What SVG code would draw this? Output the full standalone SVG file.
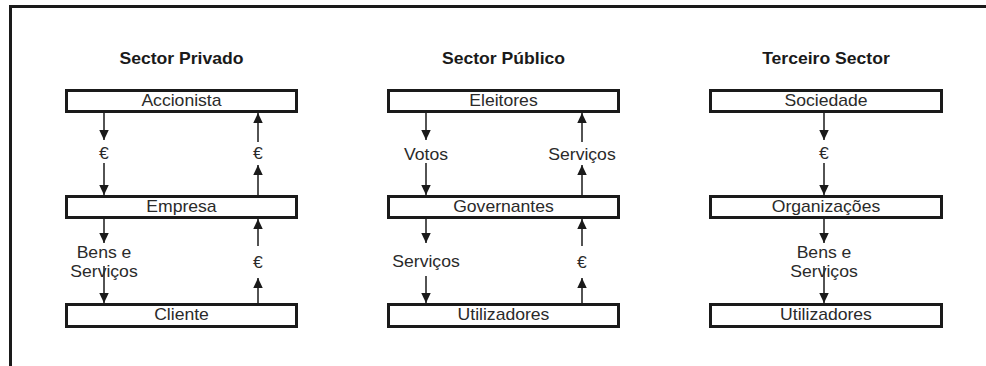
<svg xmlns="http://www.w3.org/2000/svg" width="986" height="366" viewBox="0 0 986 366">
  <style>
    .frame { fill: none; stroke: #1a1a1a; stroke-width: 3; }
    .box { fill: #ffffff; stroke: #1a1a1a; stroke-width: 3; }
    .title { font-family: "Liberation Sans", Arial, sans-serif; font-size: 16px; font-weight: bold; fill: #1a1a1a; text-anchor: middle; transform-box: fill-box; transform-origin: center; transform: scaleX(1.1); }
    .t { font-family: "Liberation Sans", Arial, sans-serif; font-size: 16px; fill: #2a2a2a; text-anchor: middle; transform-box: fill-box; transform-origin: center; transform: scaleX(1.1); }
    .lbl { font-family: "Liberation Sans", Arial, sans-serif; font-size: 16px; fill: #2a2a2a; text-anchor: middle; transform-box: fill-box; transform-origin: center; transform: scaleX(1.1); }
    .flow { fill: none; stroke: #1a1a1a; stroke-width: 1.5; marker-end: url(#head); }
  </style>
  <defs>
    <marker id="head" markerUnits="userSpaceOnUse" markerWidth="10" markerHeight="10" refX="10" refY="4.75" orient="auto">
      <path d="M0,0 L10,4.75 L0,9.5 Z" fill="#1a1a1a"/>
    </marker>
  </defs>

  <rect width="986" height="366" fill="#ffffff"/>
  <!-- outer frame: top and left edges -->
  <path class="frame" d="M10.5,366 V6.5 H986"/>

  <!-- column titles -->
  <text class="title" x="181.5" y="64">Sector Privado</text>
  <text class="title" x="503.5" y="64">Sector Público</text>
  <text class="title" x="826" y="64">Terceiro Sector</text>

  <!-- connectors -->
  <g id="connectors">
    <!-- Sector Privado -->
    <line class="flow" x1="104" y1="113" x2="104" y2="140"/>
    <line class="flow" x1="104" y1="163" x2="104" y2="195"/>
    <line class="flow" x1="258" y1="195" x2="258" y2="165"/>
    <line class="flow" x1="258" y1="142" x2="258" y2="113"/>
    <line class="flow" x1="104" y1="219" x2="104" y2="243"/>
    <line class="flow" x1="104" y1="266" x2="104" y2="303"/>
    <line class="flow" x1="258" y1="303" x2="258" y2="278"/>
    <line class="flow" x1="258" y1="246" x2="258" y2="219"/>
    <text class="lbl" x="104" y="159">€</text>
    <text class="lbl" x="258" y="159">€</text>
    <text class="lbl" x="104" y="258">Bens e</text>
    <text class="lbl" x="104" y="277">Serviços</text>
    <text class="lbl" x="258" y="268">€</text>

    <!-- Sector Público -->
    <line class="flow" x1="426" y1="113" x2="426" y2="140"/>
    <line class="flow" x1="426" y1="163" x2="426" y2="195"/>
    <line class="flow" x1="582" y1="195" x2="582" y2="165"/>
    <line class="flow" x1="582" y1="142" x2="582" y2="113"/>
    <line class="flow" x1="426" y1="219" x2="426" y2="243"/>
    <line class="flow" x1="426" y1="276" x2="426" y2="303"/>
    <line class="flow" x1="582" y1="303" x2="582" y2="278"/>
    <line class="flow" x1="582" y1="246" x2="582" y2="219"/>
    <text class="lbl" x="426" y="160">Votos</text>
    <text class="lbl" x="582" y="160">Serviços</text>
    <text class="lbl" x="426" y="267">Serviços</text>
    <text class="lbl" x="582" y="268">€</text>

    <!-- Terceiro Sector -->
    <line class="flow" x1="824" y1="113" x2="824" y2="140"/>
    <line class="flow" x1="824" y1="163" x2="824" y2="195"/>
    <line class="flow" x1="824" y1="219" x2="824" y2="243"/>
    <line class="flow" x1="824" y1="266" x2="824" y2="303"/>
    <text class="lbl" x="824" y="159">€</text>
    <text class="lbl" x="824" y="258">Bens e</text>
    <text class="lbl" x="824" y="277">Serviços</text>
  </g>

  <!-- Sector Privado nodes -->
  <g id="accionista">
    <rect class="box" x="66.5" y="90.5" width="230" height="21"/>
    <text class="t" x="181.5" y="106">Accionista</text>
  </g>
  <g id="empresa">
    <rect class="box" x="66.5" y="196.5" width="230" height="21"/>
    <text class="t" x="181.5" y="212">Empresa</text>
  </g>
  <g id="cliente">
    <rect class="box" x="66.5" y="304.5" width="230" height="22"/>
    <text class="t" x="181.5" y="320">Cliente</text>
  </g>

  <!-- Sector Público nodes -->
  <g id="eleitores">
    <rect class="box" x="388.5" y="90.5" width="230" height="21"/>
    <text class="t" x="503.5" y="106">Eleitores</text>
  </g>
  <g id="governantes">
    <rect class="box" x="388.5" y="196.5" width="230" height="21"/>
    <text class="t" x="503.5" y="212">Governantes</text>
  </g>
  <g id="utilizadores-publico">
    <rect class="box" x="388.5" y="304.5" width="230" height="22"/>
    <text class="t" x="503.5" y="320">Utilizadores</text>
  </g>

  <!-- Terceiro Sector nodes -->
  <g id="sociedade">
    <rect class="box" x="710.5" y="90.5" width="231" height="21"/>
    <text class="t" x="826" y="106">Sociedade</text>
  </g>
  <g id="organizacoes">
    <rect class="box" x="710.5" y="196.5" width="231" height="21"/>
    <text class="t" x="826" y="212">Organizações</text>
  </g>
  <g id="utilizadores-terceiro">
    <rect class="box" x="710.5" y="304.5" width="231" height="22"/>
    <text class="t" x="826" y="320">Utilizadores</text>
  </g>
</svg>
